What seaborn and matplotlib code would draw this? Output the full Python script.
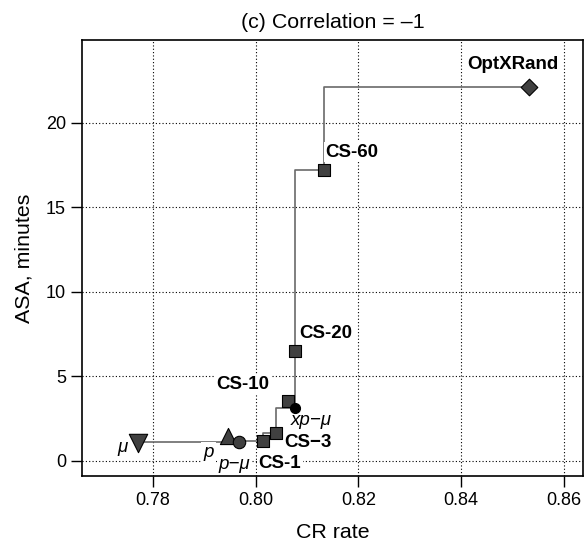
import numpy as np
import pandas as pd
import seaborn as sns
import matplotlib.pyplot as plt

# points
labels = ["μ", "p", "p−μ", "CS-1", "CS−3", "CS-10", "xp−μ", "CS-20", "CS-60", "OptXRand"]
cr_rate = [0.7771, 0.7946, 0.7967, 0.8015, 0.8039, 0.8062, 0.8077, 0.8077, 0.8132, 0.8532]
asa_min = [1.07, 1.45, 1.12, 1.18, 1.64, 3.55, 3.15, 6.5, 17.2, 22.1]
kind = ["mu", "p", "pmu", "cs", "cs", "cs", "xpmu", "cs", "cs", "opt"]
on_frontier = [True, False, True, True, True, False, True, True, True, True]

df = pd.DataFrame({"label": labels, "cr": cr_rate, "asa": asa_min,
                   "kind": kind, "front": on_frontier})

sns.set_style("white")
plt.rcParams["font.family"] = ["Liberation Sans", "DejaVu Sans"]
plt.rcParams["text.color"] = "black"
plt.rcParams["axes.labelcolor"] = "black"

# marker, area, face colour
marker_style = {
    "mu": ("v", 175, "#404040"),
    "p": ("^", 135, "#404040"),
    "pmu": ("o", 80, "#404040"),
    "cs": ("s", 80, "#404040"),
    "xpmu": ("o", 52, "black"),
    "opt": ("D", 72, "#404040"),
}

# label placement: offset in points, alignment, bold/italic
label_style = {
    "μ": ((-11, -3.5), "center", "normal", "italic"),
    "p": ((-14, -11.5), "center", "normal", "italic"),
    "p−μ": ((-3, -16.5), "center", "normal", "italic"),
    "CS-1": ((-3.5, -16), "left", "bold", "normal"),
    "CS−3": ((6, -7), "left", "bold", "normal"),
    "CS-10": ((-13, 11.5), "right", "bold", "normal"),
    "xp−μ": ((11.5, -9.5), "center", "normal", "italic"),
    "CS-20": ((3, 13), "left", "bold", "normal"),
    "CS-60": ((1.5, 13), "left", "bold", "normal"),
    "OptXRand": ((21, 16.5), "right", "bold", "normal"),
}

fig = plt.figure(figsize=(5.85, 5.41), dpi=100)
ax = fig.add_axes([82 / 585, 1 - 476 / 541, 501 / 585, 436 / 541])

front = df[df["front"]].sort_values(["cr", "asa"], kind="stable")
sns.lineplot(data=front, x="cr", y="asa", ax=ax, sort=False, estimator=None,
             color="#6a6a6a", linewidth=1.2, drawstyle="steps-pre", zorder=2)

for k, (m, s, c) in marker_style.items():
    sub = df[df["kind"] == k]
    sns.scatterplot(data=sub, x="cr", y="asa", ax=ax, marker=m, s=s, color=c,
                    edgecolor="black", linewidth=0.8, zorder=4)

for _, row in df.iterrows():
    off, ha, weight, style = label_style[row["label"]]
    ax.annotate(row["label"], (row["cr"], row["asa"]), xytext=off,
                textcoords="offset points", ha=ha, va="center", color="black",
                fontsize=13.5, fontweight=weight, fontstyle=style, zorder=3,
                bbox=dict(boxstyle="square,pad=0.1", fc="white", ec="none"))

ax.set_xlim(0.7662, 0.8637)
ax.set_ylim(-0.89, 24.9)
ax.set_xticks([0.78, 0.80, 0.82, 0.84, 0.86])
ax.set_xticklabels(["0.78", "0.80", "0.82", "0.84", "0.86"])
ax.set_yticks([0, 5, 10, 15, 20])
ax.grid(True, linestyle=(0, (1, 2)), color="black", linewidth=0.8)
ax.set_axisbelow(True)
ax.tick_params(direction="out", length=8, width=1, labelsize=13, colors="black",
               bottom=True, left=True)
for sp in ax.spines.values():
    sp.set_linewidth(1.2)
    sp.set_color("black")

ax.set_xlabel("CR rate", fontsize=15.4, labelpad=10)
ax.set_ylabel("ASA, minutes", fontsize=15.4, labelpad=9)
ax.set_title("(c) Correlation = \u20131", fontsize=15.4, pad=9)

fig.savefig("out.png", dpi=100)
